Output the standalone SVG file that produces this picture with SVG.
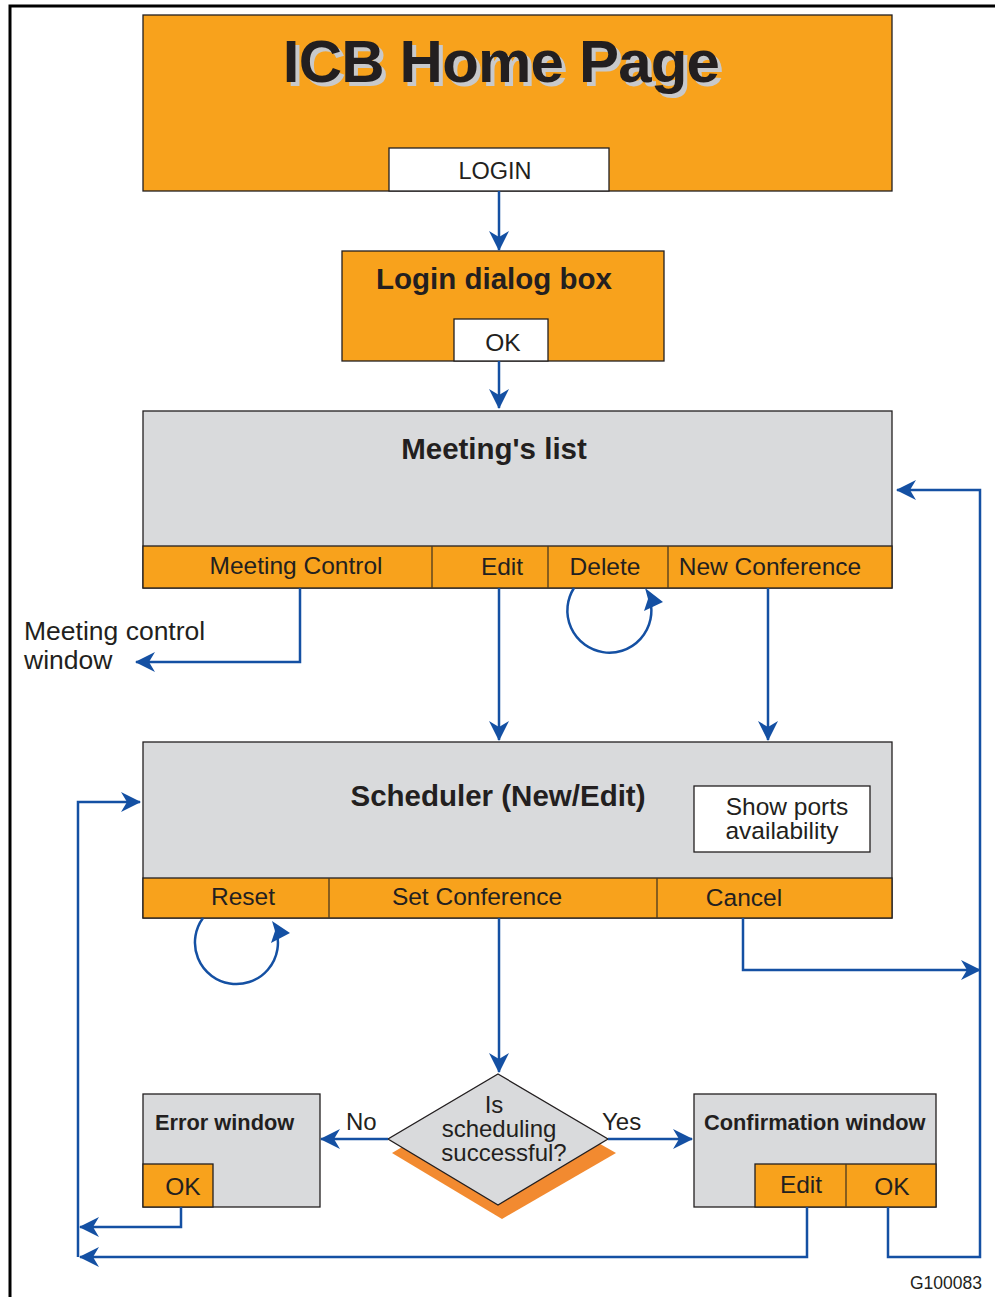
<svg xmlns="http://www.w3.org/2000/svg" width="995" height="1297" viewBox="0 0 995 1297">
  <style>
    text { font-family: "Liberation Sans", Arial, sans-serif; fill: #231f20; }
    .org { fill: #f8a21c; stroke: #231f20; stroke-width: 1.3; }
    .gry { fill: #d9dadc; stroke: #231f20; stroke-width: 1.3; }
    .wht { fill: #ffffff; stroke: #231f20; stroke-width: 1.3; }
    .div { stroke: #4a3a20; stroke-width: 1.3; }
    .lbl { font-size: 24.5px; text-anchor: middle; }
    .ttl { font-size: 29.5px; font-weight: bold; text-anchor: middle; }
    .sml { font-size: 21.8px; font-weight: bold; }
    .con { fill: none; stroke: #1450a3; stroke-width: 2.5; }
    .arr { marker-end: url(#head); }
    .tip { fill: #1450a3; }
  </style>
  <defs>
    <marker id="head" viewBox="0 0 20 20" refX="19" refY="10" markerWidth="20" markerHeight="20" markerUnits="userSpaceOnUse" orient="auto">
      <path d="M20,10 L0,0 L6,10 L0,20 z" fill="#1450a3"/>
    </marker>
  </defs>

  <rect width="995" height="1297" fill="#ffffff"/>
  <!-- page frame -->
  <path d="M10,1297 V6 H995" fill="none" stroke="#000" stroke-width="3"/>

  <g id="home">
    <rect class="org" x="143" y="15" width="749" height="176"/>
    <text x="505" y="86" font-size="60" font-weight="bold" text-anchor="middle" style="fill:#c8c9cb" letter-spacing="-0.8">ICB Home Page</text>
    <text x="501" y="82" font-size="60" font-weight="bold" text-anchor="middle" letter-spacing="-0.8">ICB Home Page</text>
    <rect class="wht" x="389" y="148" width="220" height="43"/>
    <text x="495" y="179" font-size="23.5" text-anchor="middle">LOGIN</text>
  </g>

  <g id="login">
    <rect class="org" x="342" y="251" width="322" height="110"/>
    <text class="ttl" x="494" y="289">Login dialog box</text>
    <rect class="wht" x="454" y="319" width="94" height="42"/>
    <text class="lbl" x="503" y="351">OK</text>
  </g>

  <g id="meetings">
    <rect class="gry" x="143" y="411" width="749" height="177"/>
    <text class="ttl" x="494" y="459">Meeting's list</text>
    <rect class="org" x="143" y="546" width="749" height="42"/>
    <line class="div" x1="432" y1="546" x2="432" y2="588"/>
    <line class="div" x1="548" y1="546" x2="548" y2="588"/>
    <line class="div" x1="668" y1="546" x2="668" y2="588"/>
    <text class="lbl" x="296" y="574">Meeting Control</text>
    <text class="lbl" x="502" y="575">Edit</text>
    <text class="lbl" x="605" y="575">Delete</text>
    <text class="lbl" x="770" y="575">New Conference</text>
  </g>

  <g id="meeting-control-window">
    <text x="24" y="640" font-size="26.5">Meeting control</text>
    <text x="24" y="669" font-size="26.5">window</text>
  </g>

  <g id="scheduler">
    <rect class="gry" x="143" y="742" width="749" height="176"/>
    <text class="ttl" x="498" y="806">Scheduler (New/Edit)</text>
    <rect class="wht" x="694" y="786" width="176" height="66"/>
    <text class="lbl" x="787" y="815">Show ports</text>
    <text class="lbl" x="782" y="839">availability</text>
    <rect class="org" x="143" y="878" width="749" height="40"/>
    <line class="div" x1="329" y1="878" x2="329" y2="918"/>
    <line class="div" x1="657" y1="878" x2="657" y2="918"/>
    <text class="lbl" x="243" y="905">Reset</text>
    <text class="lbl" x="477" y="905">Set Conference</text>
    <text class="lbl" x="744" y="906">Cancel</text>
  </g>

  <g id="decision">
    <polygon points="502,1088 616,1153 502,1219 392,1153" fill="#f28a30"/>
    <polygon points="498,1074 608,1139 498,1205 388,1139" fill="#d9dadc" stroke="#231f20" stroke-width="1.3"/>
    <text x="494" y="1113" font-size="24" text-anchor="middle">Is</text>
    <text x="499" y="1137" font-size="24" text-anchor="middle">scheduling</text>
    <text x="504" y="1161" font-size="24" text-anchor="middle">successful?</text>
  </g>

  <g id="error">
    <rect class="gry" x="143" y="1094" width="177" height="113"/>
    <text class="sml" x="155" y="1130">Error window</text>
    <rect class="org" x="143" y="1164" width="70" height="43"/>
    <text class="lbl" x="183" y="1195">OK</text>
  </g>

  <g id="confirmation">
    <rect class="gry" x="694" y="1094" width="242" height="113"/>
    <text class="sml" x="704" y="1130">Confirmation window</text>
    <rect class="org" x="755" y="1164" width="181" height="43"/>
    <line class="div" x1="846" y1="1164" x2="846" y2="1207"/>
    <text class="lbl" x="801" y="1193">Edit</text>
    <text class="lbl" x="892" y="1195">OK</text>
  </g>

  <g id="connectors">
    <path class="con arr" d="M499,191 V250"/>
    <path class="con arr" d="M499,361 V408"/>
    <path class="con arr" d="M300,588 V662 H136"/>
    <path class="con arr" d="M499,588 V740"/>
    <path class="con arr" d="M768,588 V740"/>
    <!-- delete loop -->
    <path class="con" d="M574,588 A42,42 0 1 0 650,600"/>
    <polygon class="tip" points="645,588 663,602 644,611 648,599"/>
    <!-- reset loop -->
    <path class="con" d="M203,918 A41.5,41.5 0 1 0 276,930"/>
    <polygon class="tip" points="272,921 290,933 271,943 275,931"/>
    <path class="con arr" d="M499,918 V1072"/>
    <path class="con arr" d="M388,1139 H321"/>
    <path class="con arr" d="M608,1139 H692"/>
    <path class="con arr" d="M743,918 V970 H980"/>
    <path class="con arr" d="M888,1207 V1257 H980 V490 H897"/>
    <path class="con arr" d="M181,1207 V1227 H80"/>
    <path class="con arr" d="M807,1207 V1257 H80"/>
    <path class="con arr" d="M78,1257 V802 H140"/>
    <text x="346" y="1130" font-size="24">No</text>
    <text x="602" y="1130" font-size="24">Yes</text>
  </g>

  <text x="982" y="1289" font-size="17.5" text-anchor="end">G100083</text>
</svg>
